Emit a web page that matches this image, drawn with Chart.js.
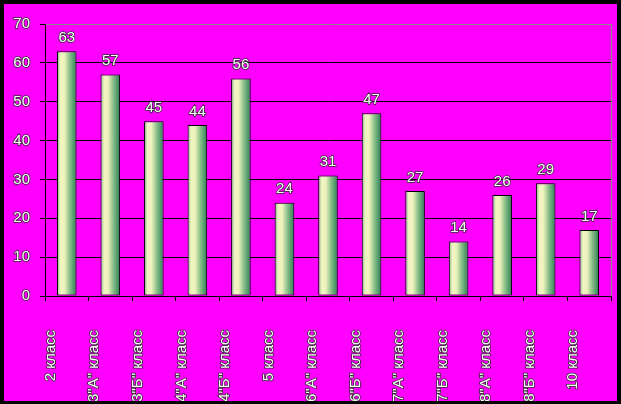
<!DOCTYPE html>
<html>
<head>
<meta charset="utf-8">
<script src="https://cdn.jsdelivr.net/npm/chart.js@4/dist/chart.umd.min.js"></script>
<style>
  html, body { margin: 0; padding: 0; background: #000; }
  body { width: 621px; height: 404px; position: relative; overflow: hidden; }
  #wrap { position: absolute; left: 4px; top: 4px; width: 613px; height: 397px; background: #ff00ff; }
</style>
</head>
<body>
<div id="wrap"><canvas id="chart" width="613" height="397"></canvas></div>
<script>
const classes = ['2 класс', '3"А" класс', '3"Б" класс', '4"А" класс', '4"Б" класс', '5 класс',
    '6"А" класс', '6"Б" класс', '7"А" класс', '7"Б" класс', '8"А" класс', '8"Б" класс', '10 класс'];
const values = [63, 57, 45, 44, 56, 24, 31, 47, 27, 14, 26, 29, 17];
const yTicks = [0, 10, 20, 30, 40, 50, 60, 70];

const FONT = "'Liberation Sans', Arial, sans-serif";

function barFill(c) {
    const chart = c.chart;
    if (!chart.chartArea) return '#cce0a0';
    const x = chart.scales.x.getPixelForValue(c.dataIndex);
    const w = chart.scales.x.width / classes.length * 0.45;
    const g = chart.ctx.createLinearGradient(x - w / 2, 0, x + w / 2, 0);
    g.addColorStop(0, '#7ab486');
    g.addColorStop(0.18, '#f2f5c2');
    g.addColorStop(0.38, '#eef2bc');
    g.addColorStop(0.65, '#8abf8a');
    g.addColorStop(1, '#2a7e52');
    return g;
}

const valueLabels = {
    id: 'valueLabels',
    afterDatasetsDraw(chart) {
        const ctx = chart.ctx;
        const meta = chart.getDatasetMeta(0);
        ctx.save();
        ctx.font = '15px ' + FONT;
        ctx.textAlign = 'center';
        ctx.textBaseline = 'bottom';
        ctx.lineWidth = 1.5;
        ctx.strokeStyle = '#303030';
        ctx.fillStyle = '#ffffff';
        meta.data.forEach((bar, i) => {
            const t = String(values[i]);
            ctx.strokeText(t, bar.x, bar.y - 6);
            ctx.fillText(t, bar.x, bar.y - 6);
        });
        ctx.restore();
    }
};

const rightEdge = {
    id: 'rightEdge',
    beforeDatasetsDraw(chart) {
        const { ctx, chartArea } = chart;
        ctx.save();
        ctx.strokeStyle = '#8a8a8a';
        ctx.lineWidth = 1;
        ctx.beginPath();
        ctx.moveTo(Math.round(chartArea.right) + 0.5, chartArea.top);
        ctx.lineTo(Math.round(chartArea.right) + 0.5, chartArea.bottom);
        ctx.stroke();
        ctx.restore();
    }
};

new Chart(document.getElementById('chart'), {
    type: 'bar',
    data: {
        labels: classes,
        datasets: [{
            data: values,
            backgroundColor: barFill,
            borderColor: '#000',
            borderWidth: 1,
            borderSkipped: false,
            categoryPercentage: 1,
            barPercentage: 0.45
        }]
    },
    options: {
        responsive: false,
        animation: false,
        layout: { padding: { top: 20, right: 6, left: 0, bottom: 0 } },
        plugins: { legend: { display: false }, tooltip: { enabled: false } },
        scales: {
            x: {
                afterFit: s => { s.height = 105; s.paddingLeft = 0; s.paddingRight = 0; },
                grid: { offset: true, drawOnChartArea: false, tickLength: 5, tickColor: '#000' },
                border: { color: '#000', width: 1 },
                ticks: {
                    autoSkip: false, minRotation: 90, maxRotation: 90, padding: 29, labelOffset: -16,
                    color: '#fff', textStrokeColor: '#303030', textStrokeWidth: 1.5,
                    font: { family: FONT, size: 15 }
                }
            },
            y: {
                min: 0, max: 70,
                afterFit: s => { s.width = 41; },
                afterBuildTicks: s => { s.ticks = yTicks.map(v => ({ value: v })); },
                grid: {
                    color: c => c.tick && c.tick.value === 70 ? '#8a8a8a' : '#000',
                    tickLength: 5, tickColor: '#000'
                },
                border: { color: '#000', width: 1 },
                ticks: {
                    padding: 10,
                    color: '#fff', textStrokeColor: '#303030', textStrokeWidth: 1.5,
                    font: { family: FONT, size: 15 }
                }
            }
        }
    },
    plugins: [rightEdge, valueLabels]
});
</script>
</body>
</html>
